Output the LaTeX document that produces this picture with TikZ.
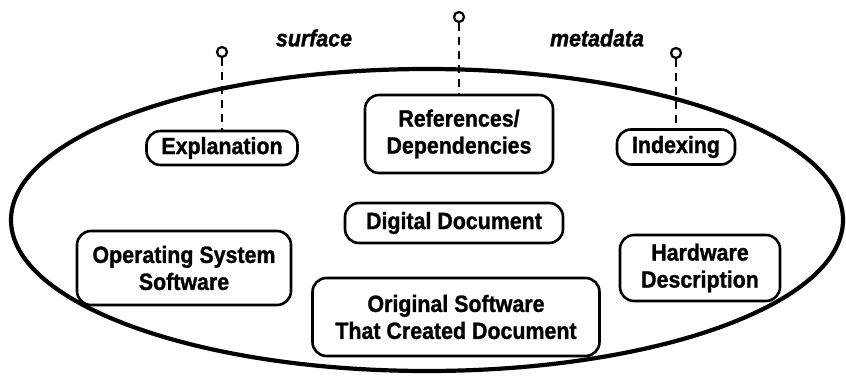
\documentclass[tikz,border=0pt]{standalone}
\usepackage{fontspec}
\setmainfont{Liberation Sans}[
    BoldFeatures={FakeStretch=0.91,FakeBold=1.2},
    BoldItalicFeatures={FakeStretch=0.91,FakeBold=1.2}]
\usetikzlibrary{calc}

\begin{document}
\begin{tikzpicture}
    [   x=1pt,y=-1pt,
        part/.style={draw=black,line width=2.6pt,rounded corners=14pt,align=center,
            inner sep=0pt,font=\bfseries\fontsize{23.5}{27}\selectfont,minimum width=#1},
        pinhead/.style={draw=black,line width=2.2pt,circle,inner sep=0pt,minimum size=10pt},
        tag/.style={font=\bfseries\itshape\fontsize{23.5}{27}\selectfont},
    ]
        \useasboundingbox (0,0) rectangle (846,380);
        % the whole document package
        \draw[line width=4.2pt] (427,220) ellipse [x radius=416,y radius=151];
        \node[tag] (surf) at (314,38) {surface};
        \node[tag] (meta) at (597,38) {metadata};
        % parts
        \node[part=151pt,minimum height=34pt] (expl) at (222,148) {Explanation};
        \node[part=188pt,minimum height=78pt] (refs) at (459,134) {References/\\Dependencies};
        \node[part=118pt,minimum height=35pt] (index) at (676,147) {Indexing};
        \node[part=218pt,minimum height=40pt] (digdoc) at (454,223) {Digital Document};
        \node[part=214pt,minimum height=74pt] (opsys) at (184,268) {Operating System\\Software};
        \node[part=287pt,minimum height=78pt] (origsw) at (456,317) {Original Software\\That Created Document};
        \node[part=160pt,minimum height=66pt] (hardw) at (700,268) {Hardware\\Description};
        % pins on the surface parts
        \foreach \b/\y in {expl/52,refs/17,index/53}
        {   \node[pinhead] (pin-\b) at (\b.north |- 0,\y) {};
            \draw[line width=2.6pt,dash pattern=on 8pt off 6pt] (pin-\b) -- (\b);
        }
    \end{tikzpicture}
\end{document}
